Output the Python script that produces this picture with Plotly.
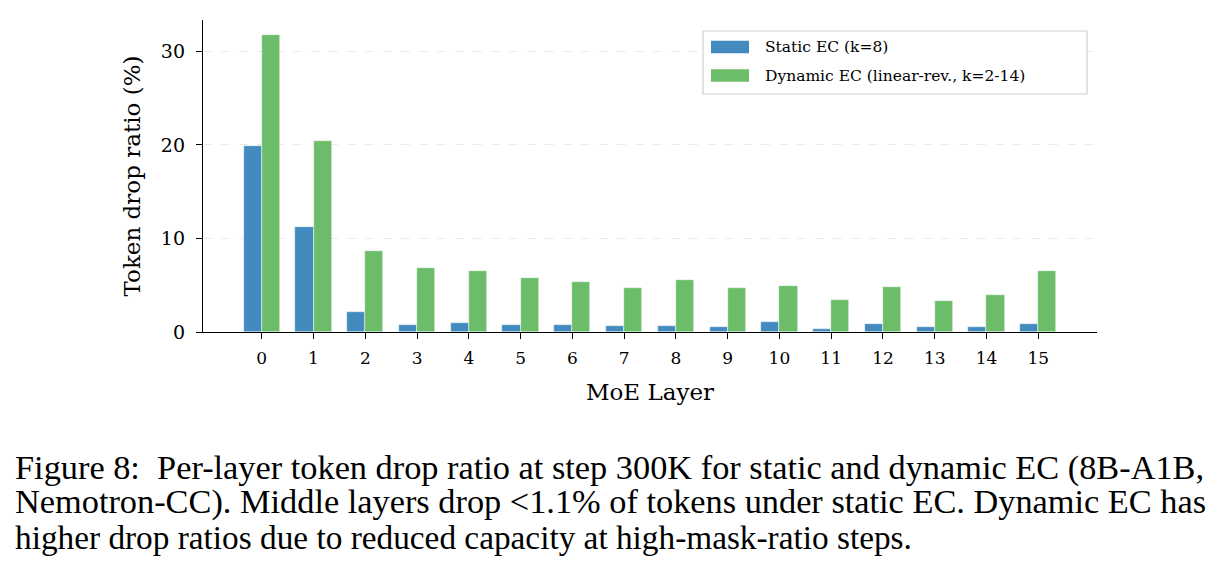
import plotly.graph_objects as go

layers = list(range(16))
static_ec = [19.9, 11.2, 2.1, 0.7, 1.0, 0.75, 0.78, 0.64, 0.68, 0.54, 1.07, 0.32, 0.82, 0.5, 0.54, 0.86]
dynamic_ec = [31.7, 20.4, 8.7, 6.8, 6.5, 5.75, 5.36, 4.71, 5.57, 4.71, 4.93, 3.43, 4.78, 3.32, 3.93, 6.5]
series_names = ["Static EC (k=8)", "Dynamic EC (linear-rev., k=2-14)"]
colors = ["#438bbf", "#6bbd6a"]
caption_lines = [
    "Figure 8:  Per-layer token drop ratio at step 300K for static and dynamic EC (8B-A1B,",
    "Nemotron-CC). Middle layers drop <1.1% of tokens under static EC. Dynamic EC has",
    "higher drop ratios due to reduced capacity at high-mask-ratio steps.",
]
caption_sizes = [34.35, 34.35, 33.3]

W, H = 1222, 564
L, R, T, B = 203, 1097, 20, 332
pw, ph = R - L, B - T

def px(x):
    return (x - L) / pw

def py(y):
    return (B - y) / ph

fig = go.Figure()
bw = 0.35
for name, vals, col, off in [(series_names[0], static_ec, colors[0], -bw / 2),
                              (series_names[1], dynamic_ec, colors[1], bw / 2)]:
    fig.add_trace(go.Bar(
        x=[l + off for l in layers], y=vals, width=bw, name=name,
        marker=dict(color=col, line=dict(color="rgba(255,255,255,0.8)", width=0.6)),
        showlegend=False,
    ))

serif = "DejaVu Serif"
fig.update_layout(
    width=W, height=H,
    margin=dict(l=L, r=W - R, t=T, b=H - B),
    paper_bgcolor="white", plot_bgcolor="white",
    bargap=0, barmode="overlay",
    font=dict(family=serif, color="black"),
    xaxis=dict(
        range=[-1.135, 16.135], tickvals=layers, ticktext=[str(l) for l in layers],
        showline=True, linecolor="black", linewidth=1.3,
        ticks="outside", ticklen=6, tickwidth=1.3, tickcolor="black",
        tickfont=dict(size=17, family=serif), ticklabelstandoff=4,
        showgrid=False, zeroline=False,
        title=dict(text="MoE Layer", font=dict(size=23, family=serif), standoff=17),
    ),
    yaxis=dict(
        range=[0, 33.35], tickvals=[0, 10, 20, 30],
        showline=True, linecolor="black", linewidth=1.3,
        ticks="outside", ticklen=6, tickwidth=1.3, tickcolor="black",
        tickfont=dict(size=19, family=serif), ticklabelstandoff=7,
        showgrid=True, gridcolor="#ebebeb", griddash="dash", gridwidth=1,
        zeroline=False,
        title=dict(text="Token drop ratio (%)", font=dict(size=23, family=serif), standoff=13),
    ),
)

# manual legend (box, swatches, labels)
shapes = [dict(type="rect", xref="paper", yref="paper",
               x0=px(703), x1=px(1087), y0=py(94), y1=py(31),
               line=dict(color="#d0d0d0", width=1.2), fillcolor="white", layer="above")]
annotations = []
for i, (name, col) in enumerate(zip(series_names, colors)):
    yc = 47 + i * 28.5
    shapes.append(dict(type="rect", xref="paper", yref="paper",
                       x0=px(711), x1=px(749), y0=py(yc + 6.3), y1=py(yc - 6.3),
                       line=dict(width=0), fillcolor=col, layer="above"))
    annotations.append(dict(xref="paper", yref="paper", x=px(763), y=py(yc),
                            xanchor="left", yanchor="middle", showarrow=False,
                            text=name, font=dict(size=15.5, family=serif, color="black")))

for i, (line, sz) in enumerate(zip(caption_lines, caption_sizes)):
    annotations.append(dict(xref="paper", yref="paper", x=px(13), y=py(467 + i * 35),
                            xanchor="left", yanchor="middle", showarrow=False,
                            text=line, font=dict(size=sz, family="Liberation Serif", color="black")))

fig.update_layout(shapes=shapes, annotations=annotations)
fig.write_html("out.html")
